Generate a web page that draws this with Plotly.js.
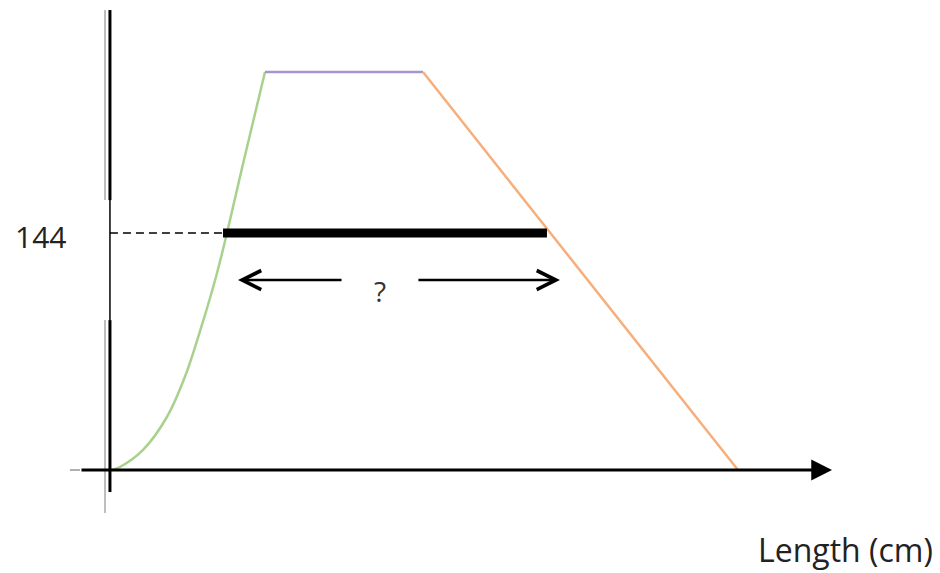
<!DOCTYPE html>
<html>
<head>
<meta charset="utf-8">
<script src="https://cdn.plot.ly/plotly-3.0.1.min.js"></script>
<style>
	html, body { margin: 0; padding: 0; background: #fff; }
	#chart { width: 940px; height: 573px; }
</style>
</head>
<body>
<div id="chart"></div>
<script>
// rising part of the profile (green)
const riseX = [ 1.2, 6.1, 20.1, 34.6, 45.5, 55.5, 64.4, 71.1, 81.4, 94.2 ];
const riseY = [ 0, 1.8, 12.2, 32.2, 56.5, 86.9, 117.3, 144, 188.4, 241.8 ];

// flat top (purple)
const topX = [ 94.2, 190.2 ];
const topY = [ 241.8, 241.8 ];

// falling part (orange)
const fallX = [ 190.2, 381.6 ];
const fallY = [ 241.8, 0 ];

// the 144 level and the width we ask for
const levelValue = 144;
const levelLabel = '144';
const widthX = [ 68.7, 265.5 ];
const guideX = [ 0, 68.7 ];

// double arrow under the bar
const arrowLevel = 115.4;
const arrowLeft = [ 141.6, 77.8 ]; // tail, head
const arrowRight = [ 186.5, 273.4 ];
const questionText = '?';
const questionPos = [ 164, 109 ];

// axis pieces
const xAxisSpan = [ -18.2, 438.7 ];
const xAxisGhost = [ -24.3, -18.2 ];
const yAxisThick = [ [ 164, 279.5 ], [ -13.4, 91.1 ] ];
const yAxisThin = [ 91.1, 164 ];
const yAxisGhost = [ [ 164, 279.5 ], [ -26.1, 91.1 ] ];
const xTitle = 'Length (cm)';
const xTitlePos = [ 446.6, -48.5 ];

const chart = {
	init( divID ){
		this.div = document.getElementById(divID);
		this.buildPlotly();
	},

	buildPlotly(){
		const font = 'Open Sans, Lato, sans-serif';

		/**
		 * Axes are hidden, the drawn axis is done with shapes + annotation
		 */
		const layout = {
			width: 940,
			height: 573,
			margin: { l: 0, r: 0, t: 0, b: 0 },
			paper_bgcolor: '#fff',
			plot_bgcolor: '#fff',
			showlegend: false,
			xaxis: { range: [ -66.8, 504.3 ], visible: false, fixedrange: true },
			yaxis: { range: [ -62.6, 285.6 ], visible: false, fixedrange: true },
			shapes: [],
			annotations: [],
		};

		// vertical axis, broken in the middle
		yAxisGhost.forEach(seg => {
			layout.shapes.push({ type: 'line', xref: 'x', yref: 'y',
				x0: -3, x1: -3, y0: seg[0], y1: seg[1],
				line: { color: '#a8a8a8', width: 1.5 } });
		});
		yAxisThick.forEach(seg => {
			layout.shapes.push({ type: 'line', xref: 'x', yref: 'y',
				x0: 0, x1: 0, y0: seg[0], y1: seg[1],
				line: { color: '#000', width: 3 } });
		});
		layout.shapes.push({ type: 'line', xref: 'x', yref: 'y',
			x0: 0, x1: 0, y0: yAxisThin[0], y1: yAxisThin[1],
			line: { color: '#000', width: 1.5 } });
		layout.shapes.push({ type: 'line', xref: 'x', yref: 'y',
			x0: xAxisGhost[0], x1: xAxisGhost[1], y0: 0, y1: 0,
			line: { color: '#b0b0b0', width: 2 } });

		// horizontal axis with filled arrow head
		layout.annotations.push({
			x: xAxisSpan[1], y: 0, ax: xAxisSpan[0], ay: 0,
			xref: 'x', yref: 'y', axref: 'x', ayref: 'y',
			text: '', showarrow: true, arrowhead: 2, arrowsize: 1.3, arrowwidth: 3.2,
			arrowcolor: '#000', standoff: 0,
		});

		// double arrow
		[ arrowLeft, arrowRight ].forEach(a => {
			layout.annotations.push({
				x: a[1], y: arrowLevel, ax: a[0], ay: arrowLevel,
				xref: 'x', yref: 'y', axref: 'x', ayref: 'y',
				text: '', showarrow: true, arrowhead: 5, arrowsize: 1.5, arrowwidth: 2.5,
				arrowcolor: '#000', standoff: 0,
			});
		});

		layout.annotations.push({
			x: questionPos[0], y: questionPos[1], xref: 'x', yref: 'y',
			text: questionText, showarrow: false,
			font: { family: font, size: 28, color: '#333' },
		});
		layout.annotations.push({
			x: -42.5, y: levelValue - 2, xref: 'x', yref: 'y',
			text: levelLabel, showarrow: false,
			font: { family: font, size: 30, color: '#222' },
		});
		layout.annotations.push({
			x: xTitlePos[0], y: xTitlePos[1], xref: 'x', yref: 'y',
			text: xTitle, showarrow: false,
			font: { family: font, size: 32, color: '#222' },
		});

		/**
		 * Data traces
		 */
		const data = [
			{
				x: guideX, y: [ levelValue, levelValue ],
				type: 'scatter', mode: 'lines',
				line: { color: '#000', width: 1.5, dash: '8px,5px' },
			},
			{
				x: riseX, y: riseY,
				type: 'scatter', mode: 'lines',
				line: { color: '#a9d18e', width: 2.5, shape: 'spline', smoothing: 1 },
			},
			{
				x: topX, y: topY,
				type: 'scatter', mode: 'lines',
				line: { color: '#a595cf', width: 2.5 },
			},
			{
				x: fallX, y: fallY,
				type: 'scatter', mode: 'lines',
				line: { color: '#f6ae7b', width: 2.5 },
			},
			{
				x: widthX, y: [ levelValue, levelValue ],
				type: 'scatter', mode: 'lines',
				line: { color: '#000', width: 9 },
			},
		];

		data.forEach(d => { d.hoverinfo = 'skip'; });

		Plotly.newPlot(this.div, data, layout, { displayModeBar: false, staticPlot: true });
	}
};

chart.init('chart');
</script>
</body>
</html>
